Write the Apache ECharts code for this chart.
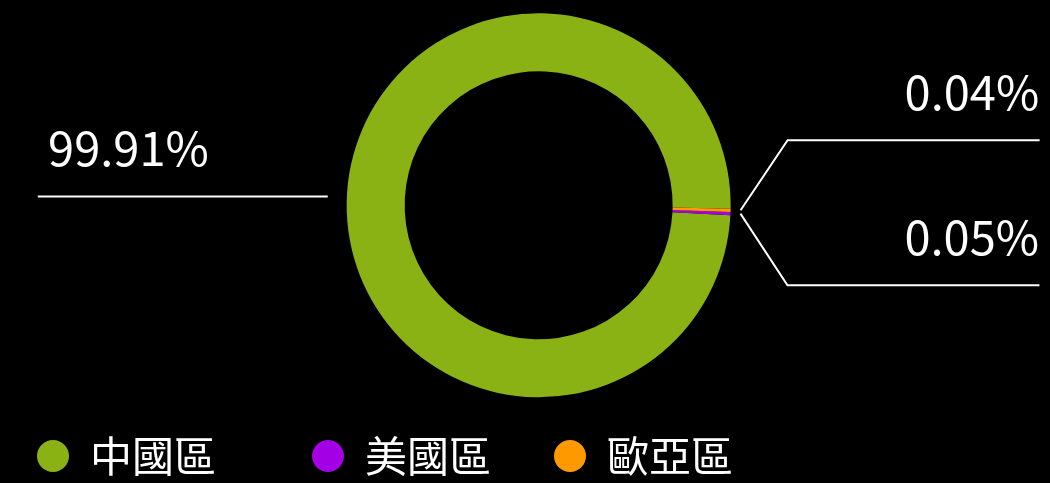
<!DOCTYPE html>
<html>
<head>
<meta charset="utf-8">
<script src="https://cdn.jsdelivr.net/npm/echarts@6/dist/echarts.min.js"></script>
<style>
  html, body { margin: 0; padding: 0; background: #000; }
  #chart { width: 1050px; height: 483px; }
</style>
</head>
<body>
<div id="chart"></div>
<script>
// 各區佔比
var regionNames = ['中國區', '美國區', '歐亞區'];
var regionValues = [99.91, 0.05, 0.04];
var regionColors = ['#8bb215', '#a300e6', '#ff9900'];
// 圖例位置
var legendLefts = [37, 312, 554];

var fontCjk = 'Noto Sans CJK TC';
var lineLen = 57;
var lineLen2 = 252;

var chart = echarts.init(document.getElementById('chart'));

var pieData = regionNames.map(function (name, i) {
  return { name: name, value: regionValues[i], itemStyle: { color: regionColors[i] } };
});

var legends = regionNames.map(function (name, i) {
  return {
    data: [name],
    left: legendLefts[i],
    top: 435,
    padding: 0,
    icon: 'circle',
    itemWidth: 32,
    itemHeight: 32,
    textStyle: { color: '#fff', fontSize: 42, fontFamily: fontCjk, padding: [0, 0, 0, 16] }
  };
});

var option = {
  backgroundColor: '#000',
  animation: false,
  legend: legends,
  series: [
    {
      type: 'pie',
      center: ['51.3%', '42.5%'],
      radius: [134, 192],
      startAngle: -1,
      clockwise: false,
      minAngle: 1,
      itemStyle: { borderWidth: 0 },
      label: {
        show: true,
        formatter: '{v|{d}%}',
        width: 170,
        overflow: 'none',
        padding: [0, -176, 0, -140],
        rich: {
          // 文字放在線上方
          v: { color: '#fff', fontSize: 47, lineHeight: 53, fontFamily: fontCjk, padding: [0, 0, 96, 0] }
        }
      },
      labelLine: {
        show: true,
        length: lineLen,
        length2: lineLen2,
        lineStyle: { color: '#fff', width: 2 }
      },
      labelLayout: function (p) {
        var pts = p.labelLinePoints;
        if (!pts) {
          return {};
        }
        if (pts[2][0] < chart.getWidth() / 2) {
          // 左側: 水平線, 離開圓環一點
          return { labelLinePoints: [[pts[0][0] - 19, pts[2][1]], pts[1], pts[2]] };
        }
        // 右側標籤上下均分
        var y = pts[2][1] - p.labelRect.height / 2;
        var p1 = [pts[0][0] + lineLen, y];
        var p2 = [p1[0] + lineLen2, y];
        return { x: p2[0] + 5, y: y, labelLinePoints: [[pts[0][0] + 10, pts[0][1]], p1, p2] };
      },
      emphasis: { disabled: true },
      data: pieData
    }
  ]
};

chart.setOption(option);
</script>
</body>
</html>
